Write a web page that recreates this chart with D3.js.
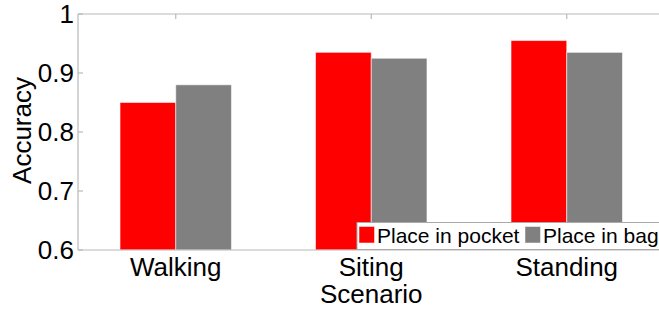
<!DOCTYPE html>
<html><head><meta charset="utf-8">
<script src="https://cdn.jsdelivr.net/npm/d3@7"></script>
<style>html,body{margin:0;padding:0;background:#fff;overflow:hidden}svg{display:block}</style>
</head><body>
<script>
const categories = ["Walking", "Siting", "Standing"];
const series = ["Place in pocket", "Place in bag"];
const pocketValues = [0.85, 0.935, 0.955];
const bagValues = [0.88, 0.925, 0.935];
const yTicks = [0.6, 0.7, 0.8, 0.9, 1];
const yTickLabels = ["0.6", "0.7", "0.8", "0.9", "1"];
const xTitle = "Scenario";
const yTitle = "Accuracy";
const colors = ["#ff0000", "#808080"];

(function () {
const W = 659, H = 309;
const mLeft = 78, mTop = 14, mBottom = 250, mRight = 664.5;
const font = "Liberation Sans, Arial, Helvetica, sans-serif";

const svg = d3.select("body").append("svg").attr("width", W).attr("height", H);

const x = d3.scaleBand().domain(categories).range([mLeft, mRight]).paddingInner(0).paddingOuter(0);
const bw = x.bandwidth() * 0.285;
const xs = d3.scaleBand().domain(series).range([-bw, bw]);
const y = d3.scaleLinear().domain([0.6, 1]).range([mBottom, mTop]);

const axisColor = "#b9b9b9";

const data = [];
categories.forEach((c, i) => {
  data.push({c, s: series[0], v: pocketValues[i], col: colors[0]});
  data.push({c, s: series[1], v: bagValues[i], col: colors[1]});
});
svg.append("g").selectAll("rect").data(data).join("rect")
  .attr("x", d => x(d.c) + x.bandwidth() / 2 + xs(d.s))
  .attr("y", d => y(d.v))
  .attr("width", xs.bandwidth())
  .attr("height", d => y(0.6) - y(d.v))
  .attr("fill", d => d.col)
  .attr("stroke", "rgba(255,255,255,0.55)")
  .attr("stroke-width", 1);

const g = svg.append("g").attr("stroke", axisColor).attr("stroke-width", 1.2).attr("fill", "none");
g.append("line").attr("x1", mLeft).attr("x2", mRight).attr("y1", mTop).attr("y2", mTop);
g.append("line").attr("x1", mLeft).attr("x2", mRight).attr("y1", mBottom).attr("y2", mBottom);
g.append("line").attr("x1", mLeft).attr("x2", mLeft).attr("y1", mTop).attr("y2", mBottom);
g.append("line").attr("x1", mRight).attr("x2", mRight).attr("y1", mTop).attr("y2", mBottom);

yTicks.forEach((t, i) => {
  g.append("line").attr("x1", mLeft).attr("x2", mLeft + 5).attr("y1", y(t)).attr("y2", y(t));
  svg.append("text").attr("x", 74).attr("y", y(t) + 26 * 0.36)
    .attr("text-anchor", "end").attr("font-family", font).attr("font-size", 26)
    .attr("fill", "#000").text(yTickLabels[i]);
});
categories.forEach(c => {
  const cx = x(c) + x.bandwidth() / 2;
  g.append("line").attr("x1", cx).attr("x2", cx).attr("y1", mTop).attr("y2", mTop + 5);
  svg.append("text").attr("x", cx).attr("y", 276)
    .attr("text-anchor", "middle").attr("font-family", font).attr("font-size", 26)
    .attr("fill", "#000").text(c);
});
svg.append("text").attr("x", x(categories[1]) + x.bandwidth() / 2).attr("y", 303)
  .attr("text-anchor", "middle").attr("font-family", font).attr("font-size", 26)
  .attr("fill", "#000").text(xTitle);
svg.append("text").attr("transform", "translate(31,130.5) rotate(-90)")
  .attr("text-anchor", "middle").attr("font-family", font).attr("font-size", 26)
  .attr("fill", "#000").text(yTitle);

const lg = svg.append("g");
lg.append("rect").attr("x", 357).attr("y", 222.5).attr("width", 320).attr("height", 27)
  .attr("fill", "#fff").attr("stroke", "#aaaaaa").attr("stroke-width", 1);
const legendX = [359, 525];
series.forEach((s, i) => {
  lg.append("rect").attr("x", legendX[i]).attr("y", 226.5).attr("width", 15.5).attr("height", 16.5)
    .attr("fill", colors[i]).attr("stroke", "rgba(255,255,255,0.5)");
  lg.append("text").attr("x", legendX[i] + 18).attr("y", 243).attr("font-family", font)
    .attr("font-size", 21).attr("fill", "#000").text(s);
});
})();
</script>
</body></html>
